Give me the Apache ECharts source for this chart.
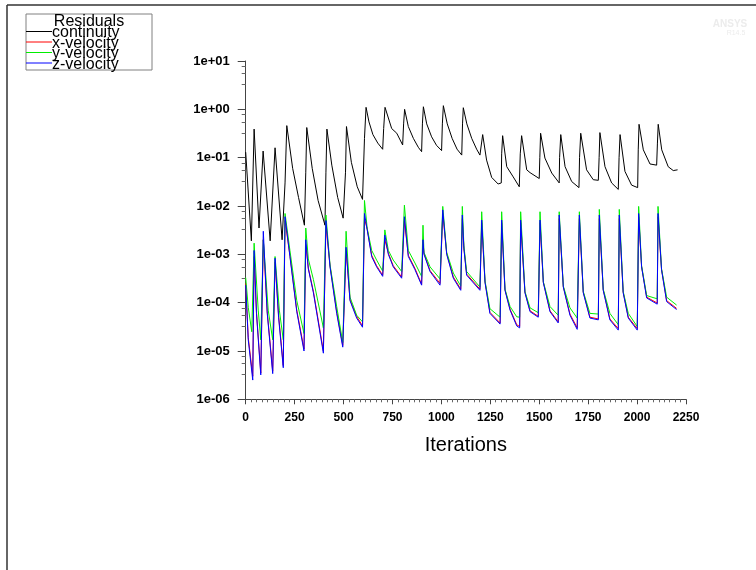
<!DOCTYPE html>
<html>
<head>
<meta charset="utf-8">
<script src="https://cdn.jsdelivr.net/npm/echarts@6/dist/echarts.min.js"></script>
<style>
html,body{margin:0;padding:0;background:#fff;}
#chart{width:756px;height:570px;}
</style>
</head>
<body>
<div id="chart"></div>
<script>
// ---- data (iteration, residual) ----
var seriesNames = ['continuity', 'x-velocity', 'y-velocity', 'z-velocity'];
var xTicks = [0, 250, 500, 750, 1000, 1250, 1500, 1750, 2000, 2250];
var yTickLabels = ['1e-06', '1e-05', '1e-04', '1e-03', '1e-02', '1e-01', '1e+00', '1e+01'];

var continuity = [[0,0.13],[29,0.0019],[43,0.39],[68,0.0035],[89,0.137],[125,0.0019],[150,0.16],[186,0.002],[201,0.03],[210,0.46],[240,0.06],[270,0.015],[300,0.004],[307,0.05],[312,0.42],[340,0.06],[370,0.013],[405,0.004],[410,0.05],[415,0.39],[440,0.07],[470,0.015],[498,0.0056],[510,0.05],[515,0.44],[540,0.08],[570,0.025],[597,0.0137],[607,0.25],[615,1.1],[630,0.55],[650,0.3],[675,0.2],[700,0.149],[705,0.4],[712,1.1],[746,0.4],[772,0.32],[802,0.183],[807,0.5],[812,1.0],[831,0.44],[857,0.25],[882,0.164],[899,0.133],[903,0.5],[908,1.13],[925,0.5],[950,0.27],[975,0.18],[1001,0.14],[1005,0.5],[1010,1.19],[1030,0.5],[1055,0.25],[1080,0.15],[1104,0.113],[1108,0.5],[1112,1.08],[1130,0.5],[1155,0.25],[1180,0.15],[1197,0.113],[1211,0.30],[1231,0.089],[1257,0.039],[1290,0.0285],[1306,0.03],[1308,0.12],[1313,0.285],[1334,0.065],[1367,0.04],[1398,0.025],[1403,0.12],[1410,0.285],[1436,0.056],[1453,0.049],[1500,0.037],[1503,0.1],[1507,0.32],[1529,0.098],[1564,0.048],[1602,0.03],[1604,0.1],[1610,0.30],[1632,0.065],[1666,0.032],[1703,0.024],[1706,0.1],[1712,0.32],[1742,0.056],[1776,0.035],[1802,0.034],[1806,0.1],[1810,0.33],[1836,0.065],[1870,0.03],[1904,0.022],[1908,0.1],[1913,0.30],[1938,0.052],[1972,0.027],[2003,0.024],[2006,0.15],[2010,0.49],[2032,0.145],[2066,0.074],[2100,0.07],[2104,0.2],[2108,0.49],[2126,0.145],[2159,0.065],[2185,0.054],[2207,0.056]];

var xVelocity = [[0,2.5e-4],[13,1.9e-5],[36,3e-6],[43,9e-4],[55,6.5e-5],[77,3.5e-6],[90,2e-3],[110,6.5e-5],[138,3.8e-6],[150,7e-4],[168,5.5e-5],[192,5e-6],[201,5e-3],[226,9.5e-4],[261,7e-5],[298,1.1e-5],[307,1.6e-3],[320,5.2e-4],[346,1.7e-4],[397,1e-5],[410,4e-3],[431,5.7e-4],[465,6.5e-5],[496,1.3e-5],[513,1.2e-3],[533,1.15e-4],[567,5.2e-5],[597,3.3e-5],[607,5.5e-3],[621,3.3e-3],[644,9.5e-4],[669,5.8e-4],[700,3.7e-4],[711,2e-3],[729,1.05e-3],[754,5.8e-4],[797,3.4e-4],[811,5e-3],[831,9.5e-4],[865,5.1e-4],[899,2.4e-4],[906,1.8e-3],[911,1.05e-3],[942,4.6e-4],[993,2.5e-4],[1007,7e-3],[1027,1.05e-3],[1061,3.4e-4],[1099,1.9e-4],[1107,5.5e-3],[1115,1.35e-3],[1129,3.9e-4],[1197,1.9e-4],[1206,4.5e-3],[1223,2.7e-4],[1248,6.3e-5],[1300,3.8e-5],[1308,4.5e-3],[1325,1.85e-4],[1351,7.3e-5],[1385,3.5e-5],[1400,3.2e-5],[1405,4.5e-3],[1427,1.65e-4],[1453,6.8e-5],[1495,5.2e-5],[1504,4.5e-3],[1521,2.65e-4],[1555,6.8e-5],[1597,4e-5],[1602,5.5e-3],[1623,2.15e-4],[1657,5.8e-5],[1694,3e-5],[1705,5.5e-3],[1725,1.65e-4],[1759,5e-5],[1802,4.6e-5],[1807,5.5e-3],[1827,1.85e-4],[1861,4.6e-5],[1904,2.9e-5],[1909,5.5e-3],[1929,1.65e-4],[1955,5e-5],[2001,2.9e-5],[2008,6e-3],[2023,5.6e-4],[2049,1.3e-4],[2103,9.8e-5],[2107,6e-3],[2125,4.9e-4],[2151,1.1e-4],[2202,7.6e-5]];

var yVelocity = [[0,3.3e-4],[13,8e-5],[31,2.5e-5],[43,1.7e-3],[64,7e-5],[77,1.7e-5],[90,2e-3],[115,7e-5],[138,1.7e-5],[150,9e-4],[172,7e-5],[192,1.7e-5],[201,7e-3],[226,1.2e-3],[261,1.1e-4],[298,2.3e-5],[307,3.5e-3],[320,8e-4],[346,3e-4],[397,3e-5],[410,6.5e-3],[431,6e-4],[465,8.3e-5],[496,1.5e-5],[513,3e-3],[533,1.3e-4],[567,5.5e-5],[597,4e-5],[607,1.3e-2],[621,3.4e-3],[644,1.2e-3],[669,7.6e-4],[700,4.5e-4],[711,3.2e-3],[729,1.2e-3],[754,7.6e-4],[797,4.4e-4],[811,1.04e-2],[831,1.2e-3],[865,6.6e-4],[899,3.5e-4],[906,4e-3],[911,1.1e-3],[942,5.5e-4],[993,3.1e-4],[1007,9.8e-3],[1027,1.1e-3],[1061,4.1e-4],[1099,2.2e-4],[1107,9.8e-3],[1115,1.5e-3],[1129,4.4e-4],[1197,2.1e-4],[1206,7.6e-3],[1223,2.8e-4],[1248,7.5e-5],[1300,5e-5],[1308,7.6e-3],[1325,1.9e-4],[1351,8.3e-5],[1385,5.1e-5],[1400,5e-5],[1405,7.6e-3],[1427,1.7e-4],[1453,7.8e-5],[1495,6.2e-5],[1504,7.6e-3],[1521,2.7e-4],[1555,8.3e-5],[1597,5.5e-5],[1602,7.6e-3],[1623,2.2e-4],[1657,7.8e-5],[1694,4.8e-5],[1705,7.6e-3],[1725,1.7e-4],[1759,6e-5],[1802,5.8e-5],[1807,8.5e-3],[1827,1.9e-4],[1861,6e-5],[1904,3.5e-5],[1909,8.5e-3],[1929,1.7e-4],[1955,6e-5],[2001,3.2e-5],[2008,9.8e-3],[2023,5.8e-4],[2049,1.4e-4],[2103,1.2e-4],[2107,9.8e-3],[2125,5e-4],[2151,1.3e-4],[2202,8.9e-5]];

var zVelocity = [[0,2.3e-4],[13,1.7e-5],[36,2.5e-6],[43,1.2e-3],[55,6e-5],[77,3.2e-6],[90,3e-3],[110,6e-5],[138,3.4e-6],[150,8.3e-4],[168,5e-5],[192,4.5e-6],[201,6e-3],[226,9e-4],[261,6.5e-5],[298,1e-5],[307,2e-3],[320,5e-4],[346,1.6e-4],[397,9e-6],[410,5e-3],[431,5.5e-4],[465,6e-5],[496,1.2e-5],[513,1.4e-3],[533,1.1e-4],[567,4.8e-5],[597,3.1e-5],[607,7e-3],[621,3.2e-3],[644,8.9e-4],[669,5.5e-4],[700,3.5e-4],[711,2.5e-3],[729,1e-3],[754,5.5e-4],[797,3.2e-4],[811,6e-3],[831,9e-4],[865,4.8e-4],[899,2.3e-4],[906,2e-3],[911,1e-3],[942,4.4e-4],[993,2.3e-4],[1007,8.3e-3],[1027,1e-3],[1061,3.2e-4],[1099,1.8e-4],[1107,6.5e-3],[1115,1.3e-3],[1129,3.7e-4],[1197,1.8e-4],[1206,5.1e-3],[1223,2.6e-4],[1248,6e-5],[1300,3.6e-5],[1308,5.1e-3],[1325,1.8e-4],[1351,7e-5],[1385,3.3e-5],[1400,3e-5],[1405,5.1e-3],[1427,1.6e-4],[1453,6.5e-5],[1495,5e-5],[1504,5.1e-3],[1521,2.6e-4],[1555,6.5e-5],[1597,3.8e-5],[1602,6.5e-3],[1623,2.1e-4],[1657,5.5e-5],[1694,2.8e-5],[1700,2.7e-5],[1705,6.5e-3],[1725,1.6e-4],[1759,4.8e-5],[1802,4.4e-5],[1807,6.5e-3],[1827,1.8e-4],[1861,4.4e-5],[1904,2.7e-5],[1909,6.5e-3],[1929,1.6e-4],[1955,4.8e-5],[2001,2.7e-5],[2008,7e-3],[2023,5.5e-4],[2049,1.25e-4],[2103,9.3e-5],[2107,7e-3],[2125,4.8e-4],[2151,1.05e-4],[2202,7.2e-5]];

var seriesColors = ['#000000', '#ff0000', '#00ee00', '#0000ff'];
var seriesData = [continuity, xVelocity, yVelocity, zVelocity];

// ---- chart ----
var chart = echarts.init(document.getElementById('chart'), null, {renderer: 'canvas'});
var FONT = '"Liberation Sans", Arial, sans-serif';

function yLabel(v) {
  var e = Math.round(Math.log(v) / Math.LN10);
  var idx = e + 6;
  return yTickLabels[idx] !== undefined ? yTickLabels[idx] : '';
}
function xLabel(v) { return String(Math.round(v)); }

var series = seriesNames.map(function (n, i) {
  return {
    name: n, type: 'line', data: seriesData[i], showSymbol: false, symbol: 'none',
    lineStyle: {width: 1, color: seriesColors[i]}, itemStyle: {color: seriesColors[i]},
    animation: false, z: 2 + i
  };
});

var legendY = [31.5, 42, 52.5, 63];
var graphic = [
  {type: 'line', shape: {x1: 7, y1: 5, x2: 756, y2: 5}, style: {stroke: '#333', lineWidth: 1.5}},
  {type: 'line', shape: {x1: 7, y1: 5, x2: 7, y2: 570}, style: {stroke: '#333', lineWidth: 1.5}},
  {type: 'rect', shape: {x: 26, y: 14, width: 126, height: 56}, style: {fill: '#fff', stroke: '#808080', lineWidth: 1}, z: 10},
  {type: 'text', x: 89, y: 21.5, style: {text: 'Residuals', font: '16px ' + FONT, fill: '#000', textAlign: 'center', textVerticalAlign: 'middle'}, z: 11},
  {type: 'text', x: 730, y: 24, style: {text: 'ANSYS', font: 'bold 10px ' + FONT, fill: '#ececec', textAlign: 'center', textVerticalAlign: 'middle'}, z: 11},
  {type: 'text', x: 736, y: 33, style: {text: 'R14.5', font: '7px ' + FONT, fill: '#ececec', textAlign: 'center', textVerticalAlign: 'middle'}, z: 11}
];
seriesNames.forEach(function (n, i) {
  graphic.push({type: 'line', shape: {x1: 26, y1: legendY[i], x2: 52, y2: legendY[i]}, style: {stroke: seriesColors[i], lineWidth: 1}, z: 11});
  graphic.push({type: 'text', x: 52, y: legendY[i] + 1.5, style: {text: n, font: '16px ' + FONT, fill: '#000', textAlign: 'left', textVerticalAlign: 'middle'}, z: 12});
});

chart.setOption({
  backgroundColor: '#ffffff',
  animation: false,
  grid: {left: 245.7, top: 61, right: 70, bottom: 170.7, containLabel: false},
  xAxis: {
    type: 'value', min: xTicks[0], max: xTicks[xTicks.length - 1], interval: 250,
    name: 'Iterations', nameLocation: 'middle', nameGap: 36,
    nameTextStyle: {fontFamily: FONT, fontSize: 20, color: '#000'},
    axisLine: {show: true, onZero: false, lineStyle: {color: '#444', width: 1}},
    axisTick: {show: true, length: 5, lineStyle: {color: '#444'}},
    minorTick: {show: true, splitNumber: 9, length: 3, lineStyle: {color: '#666'}},
    splitLine: {show: false},
    axisLabel: {fontFamily: FONT, fontSize: 12, fontWeight: 'bold', color: '#000', margin: 12, formatter: xLabel}
  },
  yAxis: {
    type: 'log', logBase: 10, min: 1e-6, max: 10, splitNumber: 7,
    axisLine: {show: true, lineStyle: {color: '#444', width: 1}},
    axisTick: {show: true, length: 8, lineStyle: {color: '#444'}},
    minorTick: {show: true, splitNumber: 4, length: 4, lineStyle: {color: '#666'}},
    splitLine: {show: false},
    axisLabel: {fontFamily: FONT, fontSize: 13, fontWeight: 'bold', color: '#000', margin: 16, formatter: yLabel}
  },
  series: series,
  graphic: graphic
});
</script>
</body>
</html>
